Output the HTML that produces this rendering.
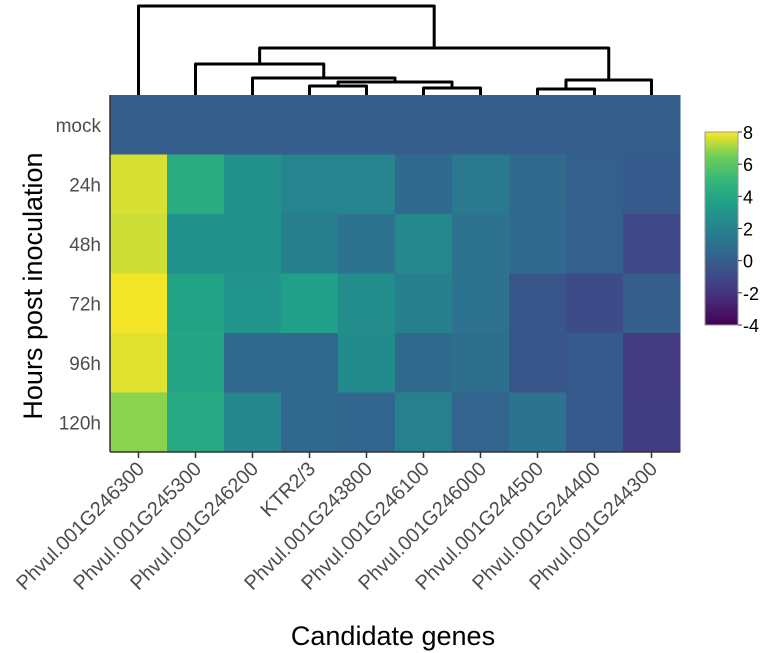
<!DOCTYPE html>
<html><head><meta charset="utf-8"><style>
html,body{margin:0;padding:0;background:#fff;width:767px;height:653px;overflow:hidden}
text{font-family:"Liberation Sans",sans-serif}
</style></head><body>
<svg id="chart" width="767" height="653" xmlns="http://www.w3.org/2000/svg">
<defs><linearGradient id="cbg" x1="0" y1="1" x2="0" y2="0">
<stop offset="0" stop-color="#440154"/><stop offset="0.125" stop-color="#482878"/><stop offset="0.25" stop-color="#3e4a89"/><stop offset="0.375" stop-color="#31688e"/><stop offset="0.5" stop-color="#26828e"/><stop offset="0.625" stop-color="#1f9e89"/><stop offset="0.75" stop-color="#35b779"/><stop offset="0.875" stop-color="#6ece58"/><stop offset="1" stop-color="#fde725"/></linearGradient></defs>
<g id="cells"></g>
<g id="dendro" fill="none" stroke="#000" stroke-width="3" stroke-linejoin="round"></g>
<g id="xaxis"></g>
<g id="yaxis"></g>
<text x="0" y="0" transform="translate(42,286) rotate(-90)" text-anchor="middle" font-size="27" fill="#000">Hours post inoculation</text>
<text x="393" y="645" text-anchor="middle" font-size="27" fill="#000">Candidate genes</text>
<g id="cbar">
<rect x="705" y="132" width="33" height="193" fill="url(#cbg)" stroke="#999" stroke-width="1"/>
</g>
</svg>
<script>
const genes=["Phvul.001G246300","Phvul.001G245300","Phvul.001G246200","KTR2/3","Phvul.001G243800","Phvul.001G246100","Phvul.001G246000","Phvul.001G244500","Phvul.001G244400","Phvul.001G244300"];
const times=["mock","24h","48h","72h","96h","120h"];
const rowMock=[0,0,0,0,0,0,0,0,0,0];
const row24=[7.6,4.3,2.8,2.1,2.1,0.6,1.5,0.7,0.1,-0.2];
const row48=[7.5,2.8,2.8,1.8,1.1,2.3,1.1,0.6,0.1,-1.1];
const row72=[7.9,3.8,3.0,3.6,2.6,1.8,1.1,-0.4,-0.9,0];
const row96=[7.7,3.9,0.5,0.5,2.5,0.7,0.9,-0.4,-0.2,-1.7];
const row120=[6.8,4.1,2.2,0.5,0.4,1.9,0.3,1.1,-0.2,-1.6];
const values=[rowMock,row24,row48,row72,row96,row120];
const cbTicks=[8,6,4,2,0,-2,-4];
const vmin=-4,vmax=8;
const X0=110,X1=680,Y0=95,Y1=452;
const cw=(X1-X0)/genes.length, rh=(Y1-Y0)/times.length;
const xs=i=>X0+cw*i, ys=j=>Y0+rh*j;
const vir=[[68,1,84],[72,40,120],[62,74,137],[49,104,142],[38,130,142],[31,158,137],[53,183,121],[110,206,88],[253,231,37]];
function color(v){let t=Math.max(0,Math.min(1,(v-vmin)/(vmax-vmin)))*8;let i=Math.min(7,Math.floor(t)),f=t-i;const a=vir[i],b=vir[i+1];return `rgb(${a.map((c,k)=>Math.round(c+(b[k]-c)*f)).join(',')})`;}
const NS="http://www.w3.org/2000/svg";
function mk(tag,at,par){const e=document.createElementNS(NS,tag);for(const k in at)e.setAttribute(k,at[k]);par.appendChild(e);return e;}
const cells=document.getElementById('cells');
values.forEach((row,j)=>row.forEach((v,i)=>{
 const r=mk('rect',{x:xs(i),y:ys(j),width:cw+0.5,height:rh+0.5,fill:color(v)},cells);
 
 
}));
const xa=document.getElementById('xaxis');
mk('line',{x1:X0,y1:Y1,x2:X1,y2:Y1,stroke:'#333','stroke-width':1.5},xa);
genes.forEach((g,i)=>{
 const cx=xs(i)+cw/2;
 mk('line',{x1:cx,y1:Y1,x2:cx,y2:Y1+6,stroke:'#333','stroke-width':1.5},xa);
 const t=mk('text',{x:0,y:0,transform:`translate(${cx+7},${Y1+18}) rotate(-45)`,'text-anchor':'end','font-size':20,fill:'#4d4d4d'},xa);
 t.textContent=g;
 
 
});
const ya=document.getElementById('yaxis');
mk('line',{x1:X0,y1:Y0,x2:X0,y2:Y1,stroke:'#333','stroke-width':1.5},ya);
times.forEach((tm,j)=>{
 const t=mk('text',{x:101,y:ys(j)+rh/2+7,'text-anchor':'end','font-size':19,fill:'#4d4d4d'},ya);
 t.textContent=tm;
 
 
});
const cb=document.getElementById('cbar');
cbTicks.forEach(v=>{
 const y=132+193*(vmax-v)/(vmax-vmin);
 mk('line',{x1:738,y1:y,x2:742,y2:y,stroke:'#333'},cb);
 const t=mk('text',{x:743,y:y+7,'font-size':18,fill:'#000'},cb);
 t.textContent=v;
 
 
});
const lx=i=>xs(i)+cw/2;
const dd=document.getElementById('dendro');
function link(x1,y1,x2,y2,yt){const p=mk('path',{d:`M${x1},${y1}V${yt}H${x2}V${y2}`},dd);}
const a=(lx(3)+lx(4))/2, b=(lx(5)+lx(6))/2, c=(a+b)/2, d=(lx(2)+c)/2, e=(lx(1)+d)/2;
const f=(lx(7)+lx(8))/2, g=(f+lx(9))/2, h=(e+g)/2;
link(lx(3),Y0,lx(4),Y0,86);
link(lx(5),Y0,lx(6),Y0,88);
link(a,86,b,88,82);
link(lx(2),Y0,c,82,78);
link(lx(1),Y0,d,78,64);
link(lx(7),Y0,lx(8),Y0,89);
link(f,89,lx(9),Y0,80);
link(e,64,g,80,48);
link(lx(0),Y0,h,48,6);
</script>
</body></html>
